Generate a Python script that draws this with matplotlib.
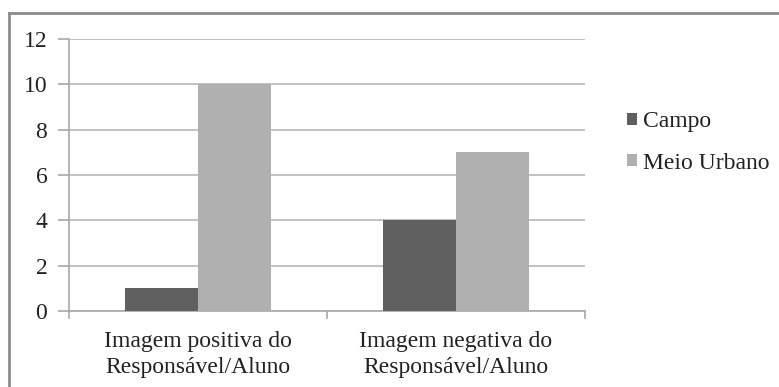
import matplotlib
matplotlib.use("Agg")
import matplotlib.pyplot as plt
import numpy as np
from matplotlib.lines import Line2D
from matplotlib.patches import Patch

categories = ["Imagem positiva do\nResponsável/Aluno", "Imagem negativa do\nResponsável/Aluno"]
series_names = ["Campo", "Meio Urbano"]
campo = [1, 4]
meio_urbano = [10, 7]
y_ticks = [0, 2, 4, 6, 8, 10, 12]

plt.rcParams["font.family"] = "serif"
plt.rcParams["font.serif"] = ["Liberation Serif", "DejaVu Serif"]

FS = 17
TEXT = "#222222"

W, H = 779, 387
fig = plt.figure(figsize=(W / 100, H / 100), dpi=100)

# plot area in pixel coordinates
left, right, top, bottom = 69, 585, 39, 311
ax = fig.add_axes([left / W, 1 - bottom / H, (right - left) / W, (bottom - top) / H])

x = np.arange(len(categories))
bw = 0.283
c_dark = "#606060"
c_light = "#b0b0b0"
ax.bar(x - bw / 2, campo, width=bw, color=c_dark, zorder=3, label=series_names[0])
ax.bar(x + bw / 2, meio_urbano, width=bw, color=c_light, zorder=3, label=series_names[1])

ax.set_xlim(-0.5, len(categories) - 0.5)
ax.set_ylim(0, 12)
ax.set_yticks(y_ticks)
ax.set_yticklabels([str(v) for v in y_ticks], fontsize=FS, color=TEXT)
ax.yaxis.grid(True, color="#b8b8b8", linewidth=1.2, zorder=0)
ax.set_axisbelow(True)

for s in ["top", "right"]:
    ax.spines[s].set_visible(False)
ax.spines["left"].set_color("#a8a8a8")
ax.spines["bottom"].set_color("#a8a8a8")
ax.spines["left"].set_linewidth(1.2)
ax.spines["bottom"].set_linewidth(1.2)

ax.tick_params(axis="y", length=8, color="#a8a8a8", width=1.2, pad=7.6)
ax.set_xticks([-0.5, 0.5, 1.5])
ax.set_xticklabels([])
ax.tick_params(axis="x", length=6, color="#a8a8a8", width=1.2, direction="out")
for xi, lab in zip(x, categories):
    ax.text(xi, -0.075, lab, transform=ax.get_xaxis_transform(), ha="center", va="top",
            fontsize=FS, color=TEXT, linespacing=1.3)

handles = [Patch(facecolor=c_dark, edgecolor="none"), Patch(facecolor=c_light, edgecolor="none")]
fig.legend(handles, series_names, loc="center left", bbox_to_anchor=(627 / W, 1 - 142.5 / H),
           frameon=False, fontsize=FS, handlelength=0.42, handleheight=0.42,
           handletextpad=0.25, labelspacing=0.85, labelcolor=TEXT, borderpad=0, borderaxespad=0)

# outer chart frame (top and left edges visible)
frame_color = "#8c8c8c"
fig.add_artist(Line2D([9 / W, 1], [1 - 13 / H, 1 - 13 / H], transform=fig.transFigure,
                      color=frame_color, linewidth=2))
fig.add_artist(Line2D([9 / W, 9 / W], [0, 1 - 13 / H], transform=fig.transFigure,
                      color=frame_color, linewidth=2))

fig.savefig("out.png", dpi=100)
